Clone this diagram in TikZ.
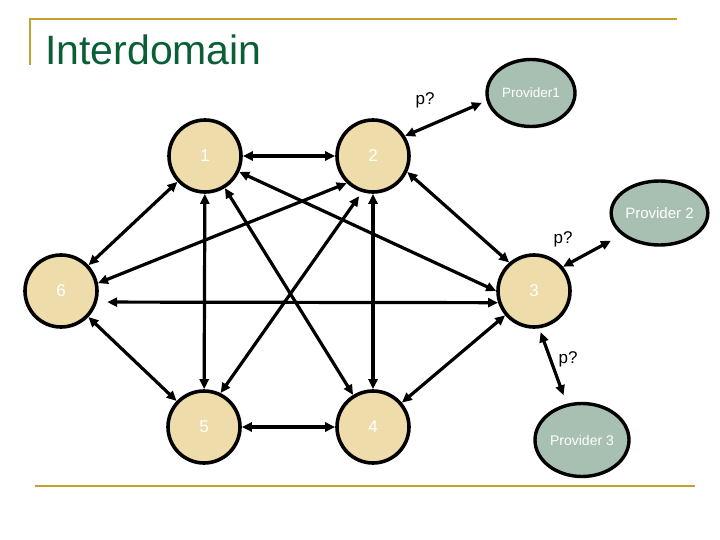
\documentclass[tikz,border=0pt]{standalone}
\usepackage{fontspec}
\setmainfont{Liberation Sans}
\usetikzlibrary{shapes.geometric,arrows.meta}
\definecolor{rulegold}{RGB}{196,160,44}
\definecolor{titlegreen}{RGB}{10,95,55}
\definecolor{asfill}{RGB}{238,220,170}
\definecolor{provfill}{RGB}{168,192,178}
\begin{document}
\begin{tikzpicture}[x=1pt,y=-1pt,>={Triangle[length=10pt,width=9pt]},
                asnode/.style={circle,draw,line width=3.6pt,fill=asfill,minimum size=72pt,inner sep=0pt,text=white,font=\fontsize{17}{17}\selectfont},
                provnode/.style={ellipse,draw,line width=3.4pt,fill=provfill,inner sep=0pt,text=white},
                link/.style={<->,line width=3.2pt},
                plabel/.style={inner sep=0pt,font=\fontsize{17}{17}\selectfont}]
                \useasboundingbox (0,0) rectangle (720,540);
                \draw [rulegold,line width=2.8pt] (30,65)--(30,19)--(677,19);
                \draw [rulegold,line width=2.8pt] (35,486)--(695,486);
                \node [anchor=base west,inner sep=0pt,text=titlegreen,font=\fontsize{41}{41}\selectfont] (title) at (45,65) {Interdomain};
                \node [asnode] (n1) at (205,156) {1};
                \node [asnode] (n2) at (373,156) {2};
                \node [asnode] (n3) at (534,291) {3};
                \node [asnode] (n4) at (373,427) {4};
                \node [asnode] (n5) at (204,427) {5};
                \node [asnode] (n6) at (61,291) {6};
                \node [provnode,minimum width=88pt,minimum height=67pt,font=\fontsize{13.5}{13.5}\selectfont] (prov1) at (531,93) {Provider1};
                \node [provnode,minimum width=91pt,minimum height=64pt,font=\fontsize{15}{15}\selectfont] (prov2) at (659.5,213) {Provider 2};
                \node [provnode,minimum width=94pt,minimum height=73pt,font=\fontsize{14}{14}\selectfont] (prov3) at (582,440) {Provider 3};
                \node [plabel] (q1) at (425,100) {p?};
                \node [plabel] (q2) at (563,239) {p?};
                \node [plabel] (q3) at (568,359) {p?};
                \draw [link] (n1)--(n2);
                \draw [link] (n1)--(n6);
                \draw [link] (n1)--(n5);
                \draw [link] (n1)--(n4);
                \draw [link] (n1.-25)--(n3.180);
                \draw [link] (n2.-134)--(n6.12);
                \draw [link,shorten <=5pt] (n2.-107)--(n5.64);
                \draw [link] (n2)--(n4);
                \draw [link] (n2.-25)--(n3.131);
                \draw [link,shorten <=10pt] (n6.-17)--(n3.-162);
                \draw [link] (n6)--(n5);
                \draw [link] (n3)--(n4);
                \draw [link] (n5)--(n4);
                \draw [link,shorten >=5pt] (n2.32)--(prov1.190);
                \draw [link,shorten >=12pt] (n3.40)--(prov2.210);
                \draw [link,shorten <=4pt,shorten >=9pt] (n3.-82)--(prov3.113);
\end{tikzpicture}
\end{document}
